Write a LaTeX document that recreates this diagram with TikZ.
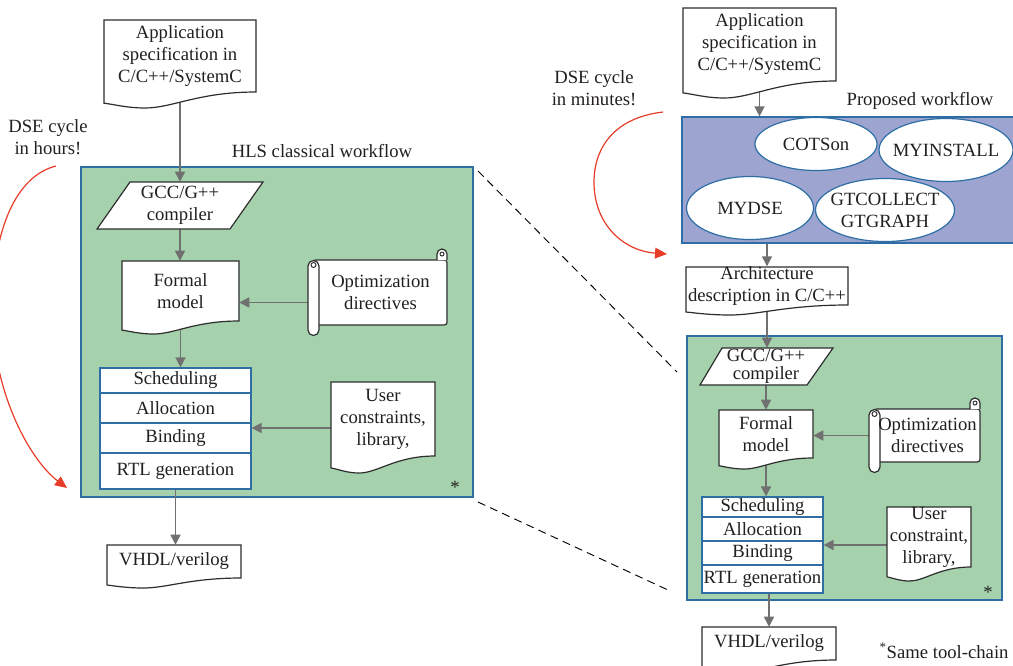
\documentclass[tikz,border=0pt]{standalone}
\usepackage{fontspec}
\setmainfont{Liberation Serif}
\usetikzlibrary{arrows.meta,shapes.geometric,calc}
\pgfdeclarelayer{back}
\pgfdeclarelayer{mid}
\pgfsetlayers{back,mid,main}
\definecolor{hlsgreen}{RGB}{165,210,173}
\definecolor{propblue}{RGB}{157,164,208}
\definecolor{edgeblue}{RGB}{46,110,165}
\definecolor{arrgray}{RGB}{112,112,112}
\definecolor{dsered}{RGB}{230,60,40}
\definecolor{inkc}{RGB}{35,31,32}
\definecolor{outl}{RGB}{45,45,45}
\tikzset{
  docline/.style={draw=outl, line width=0.9pt, fill=white},
  doctext/.style={align=center, inner sep=0pt, text=inkc, font=\fontsize{14}{16.5}\selectfont},
  flow/.style={draw=arrgray, line width=1.1pt, -{Triangle[length=7.5pt,width=7.5pt]}},
  stepcell/.style={draw=edgeblue, line width=0.9pt, fill=white, inner sep=0pt, text=inkc, font=\fontsize{14}{16.5}\selectfont},
  tool/.style={ellipse, draw=edgeblue, line width=0.9pt, fill=white, inner sep=0pt, inner xsep=-8pt, align=center, text=inkc, font=\fontsize{14}{16.5}\selectfont},
  area/.style={draw=edgeblue, line width=0.9pt, inner sep=0pt},
  lbl/.style={align=center, text=inkc, font=\fontsize{14}{16.5}\selectfont, inner sep=0pt},
  zoomline/.style={draw=black, dash pattern=on 6pt off 4pt, line width=0.7pt},
  dsearrow/.style={draw=dsered, line width=0.9pt, -{Triangle[length=9pt,width=8pt]}},
}
% document shape: name, x1, y1, x2, yR, yD, text
\newcommand\docshape[7]{%
  \pgfmathsetmacro\dsW{#4-#2}%
  \pgfmathsetmacro\dsL{#5+0.7*(#6-#5)}%
  \draw[docline] (#2,#3) -- (#4,#3) -- (#4,#5)
    .. controls ({#2+0.62*\dsW},#5) and ({#2+0.45*\dsW},#6) .. ({#2+0.27*\dsW},#6)
    .. controls ({#2+0.15*\dsW},#6) and ({#2+0.06*\dsW},{\dsL+1}) .. (#2,\dsL) -- cycle;
  \node[doctext, minimum width={\dsW*0.75pt}, minimum height={(#5-#3)*0.75pt}] (#1) at ({(#2+#4)/2},{(#3+#5)/2}) {#7};
}
% horizontal scroll: name, x1, y1, x2, y2, text
\newcommand\scrollshape[6]{%
  \draw[docline, rounded corners=2pt] ({#2+5},#3) -- (#4,#3) -- (#4,#5) -- ({#2+5},#5) -- cycle;
  \draw[docline] ({#4-10},#3) -- ({#4-10},{#3-6}) arc[start angle=180,end angle=360,radius=5] -- (#4,#3);
  \draw[draw=outl, line width=0.7pt] ({#4-5},{#3-6}) circle[radius=2];
  \draw[docline] (#2,{#3+6}) -- (#2,{#5+5}) arc[start angle=180,end angle=0,radius=5.5] -- ({#2+11},{#3+6}) arc[start angle=0,end angle=-180,radius=5.5] -- cycle;
  \draw[draw=outl, line width=0.7pt] ({#2+5.5},{#3+5}) circle[radius=2.5];
  \node[doctext, minimum width={(#4-#2)*0.75pt}, minimum height={(#5-#3)*0.75pt}] (#1) at ({(#2+#4)/2+3},{(#3+#5)/2}) {#6};
}
\begin{document}
\begin{tikzpicture}[x=0.75pt,y=-0.75pt]
\useasboundingbox (0,0) rectangle (1013,665);

% ---------- background areas ----------
\begin{pgfonlayer}{back}
  \node[area, fill=hlsgreen, minimum width={392*0.75pt}, minimum height={330*0.75pt}] (hlsA) at (277,332) {};
  \node[area, fill=hlsgreen, minimum width={315*0.75pt}, minimum height={264*0.75pt}] (hlsB) at (844.5,468) {};
  \node[area, fill=propblue, minimum width={338*0.75pt}, minimum height={126*0.75pt}] (propB) at (851,180) {};
\end{pgfonlayer}

% ---------- labels ----------
\node[lbl] (hlsLbl) at (322,151) {HLS classical workflow};
\node[lbl] (propLbl) at (920,101) {Proposed workflow};
\node[lbl] (dseA) at (48,137) {DSE cycle\\in hours!};
\node[lbl] (dseB) at (594,88) {DSE cycle\\in minutes!};
\node[lbl] (starA) at (455,487) {*};
\node[lbl] (starB) at (988,592) {*};
\node[lbl] (note) at (944,651) {\textsuperscript{*}Same tool-chain};

% ---------- left workflow ----------
\docshape{appA}{104}{20}{256}{92}{108}{Application\\specification in\\C/C++/SystemC}
\draw[docline] (130,182) -- (263,182) -- (230,229) -- (97,229) -- cycle;
\node[doctext, minimum width={100*0.75pt}, minimum height={47*0.75pt}] (gccA) at (180,205.5) {GCC/G++\\compiler};
\docshape{formalA}{122}{261}{239}{321}{334}{Formal\\model}
\scrollshape{optA}{308}{260}{447}{325}{Optimization\\directives}
\node[stepcell, minimum width={151*0.75pt}, minimum height={25*0.75pt}] (schedA) at (175.5,380.5) {Scheduling};
\node[stepcell, minimum width={151*0.75pt}, minimum height={30*0.75pt}] (allocA) at (175.5,408) {Allocation};
\node[stepcell, minimum width={151*0.75pt}, minimum height={30*0.75pt}] (bindA) at (175.5,438) {Binding};
\node[stepcell, minimum width={151*0.75pt}, minimum height={36*0.75pt}] (rtlA) at (175.5,471) {RTL generation};
\docshape{userA}{331}{382}{435}{456}{473}{User\\constraints,\\library,}
\docshape{vhdlA}{107}{545}{241}{578}{588}{VHDL/verilog}

% ---------- right workflow ----------
\docshape{appB}{683}{8}{836}{81}{98}{Application\\specification in\\C/C++/SystemC}
\node[tool, minimum width={122*0.75pt}, minimum height={53*0.75pt}] (cots) at (816,144) {COTSon};
\node[tool, minimum width={134*0.75pt}, minimum height={63*0.75pt}] (myinst) at (946,150) {MYINSTALL};
\node[tool, minimum width={127*0.75pt}, minimum height={63*0.75pt}] (mydse) at (750,208) {MYDSE};
\node[tool, minimum width={139*0.75pt}, minimum height={63*0.75pt}] (gtc) at (885,210) {GTCOLLECT\\GTGRAPH};
\docshape{archB}{686}{267}{848}{305}{315}{Architecture\\description in C/C++}
\draw[docline] (722,348) -- (833,348) -- (807,385) -- (700,385) -- cycle;
\node[doctext, font=\fontsize{14}{13.5}\selectfont, minimum width={90*0.75pt}, minimum height={37*0.75pt}] (gccB) at (766,366.5) {GCC/G++\\compiler};
\docshape{formalB}{719}{410}{813}{458}{469}{Formal\\model}
\scrollshape{optB}{869}{409}{980}{462}{Optimization\\directives}
\node[stepcell, minimum width={121*0.75pt}, minimum height={20*0.75pt}] (schedB) at (762.5,507) {Scheduling};
\node[stepcell, minimum width={121*0.75pt}, minimum height={24*0.75pt}] (allocB) at (762.5,529) {Allocation};
\node[stepcell, minimum width={121*0.75pt}, minimum height={24*0.75pt}] (bindB) at (762.5,553) {Binding};
\node[stepcell, minimum width={121*0.75pt}, minimum height={28*0.75pt}] (rtlB) at (762.5,579) {RTL generation};
\docshape{userB}{887}{507}{971}{567}{581}{User\\constraint,\\library,}
\docshape{vhdlB}{702}{627}{836}{660}{672}{VHDL/verilog}

% ---------- connectors ----------
\coordinate (optAout) at ($(optA.west)+(0,10)$);
\coordinate (userAout) at ($(userA.west)+(0,9)$);
\coordinate (userBout) at ($(userB.west)+(0,8)$);
\begin{pgfonlayer}{mid}
  \draw[flow] (appA.south) -- (gccA.north);
  \draw[flow] (gccA.south) -- (gccA.south |- formalA.north);
  \draw[flow] (optAout) -- (optAout -| formalA.east);
  \draw[flow] (formalA.south) -- (formalA.south |- schedA.north);
  \draw[flow] (userAout) -- (userAout -| bindA.east);
  \draw[flow] (rtlA.south) -- (rtlA.south |- vhdlA.north);

  \draw[flow] (appB.south) -- (appB.south |- propB.north);
  \draw[flow] (archB.north |- propB.south) -- (archB.north);
  \draw[flow] (archB.south) -- (archB.south |- gccB.north);
  \draw[flow] (formalB.north |- gccB.south) -- (formalB.north);
  \draw[flow] (optB.west) -- (optB.west -| formalB.east);
  \draw[flow] (formalB.south) -- (formalB.south |- schedB.north);
  \draw[flow] (userBout) -- (userBout -| bindB.east);
  \draw[flow] (vhdlB.north |- rtlB.south) -- (vhdlB.north);
\end{pgfonlayer}

% ---------- zoom lines ----------
\coordinate (zA1) at (478,171);
\coordinate (zB1) at (677,372);
\coordinate (zA2) at (478,502);
\coordinate (zB2) at (668,590);
\draw[zoomline] (zA1) -- (zB1);
\draw[zoomline] (zA2) -- (zB2);

% ---------- DSE cycle arrows ----------
\coordinate (cycA1) at (56,166);
\coordinate (cycA2) at (67,488);
\draw[dsearrow] (cycA1) .. controls (20,175) and (-5,220) .. (-8,300) .. controls (-10,390) and (30,460) .. (cycA2);
\coordinate (cycB1) at (663,112);
\coordinate (cycB2) at (667,254);
\draw[dsearrow] (cycB1) .. controls (612,118) and (594,150) .. (594,182) .. controls (594,226) and (625,251) .. (cycB2);
\end{tikzpicture}
\end{document}
